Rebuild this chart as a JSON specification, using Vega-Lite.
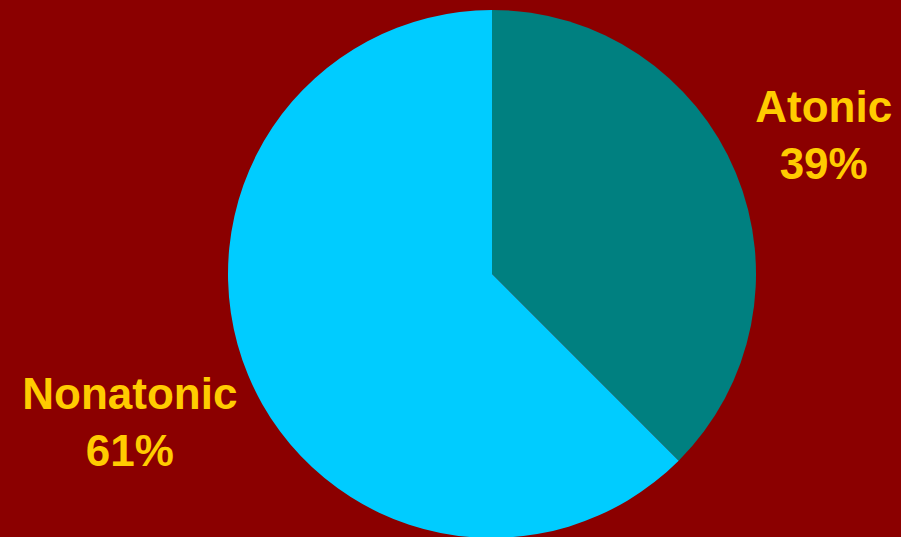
{
  "$schema": "https://vega.github.io/schema/vega-lite/v6.json",
  "autosize": "none",
  "width": 984,
  "height": 548,
  "padding": 0,
  "background": "#8B0000",
  "config": {"view": {"stroke": null}},
  "data": {"values": [
    {"category": "Atonic", "value": 37.5, "label": "Atonic\n39%"},
    {"category": "Nonatonic", "value": 62.5, "label": "Nonatonic\n61%"}
  ]},
  "encoding": {
    "theta": {"field": "value", "type": "quantitative", "stack": true},
    "color": {"field": "category", "type": "nominal", "scale": {"domain": ["Atonic", "Nonatonic"], "range": ["#008080", "#00CCFF"]}, "legend": null}
  },
  "layer": [
    {"mark": {"type": "arc", "outerRadius": 264}},
    {
      "mark": {"type": "text", "font": "Liberation Sans", "fontWeight": "bold", "fontSize": 44, "lineBreak": "\n", "lineHeight": 57, "align": "center", "baseline": "middle", "dy": -28},
      "encoding": {
        "text": {"field": "label"},
        "radius": {"field": "value", "type": "quantitative", "scale": {"type": "linear", "zero": false, "domain": [37.5, 62.5], "range": [359, 392]}},
        "color": {"value": "#FFCC00"}
      }
    }
  ]
}
